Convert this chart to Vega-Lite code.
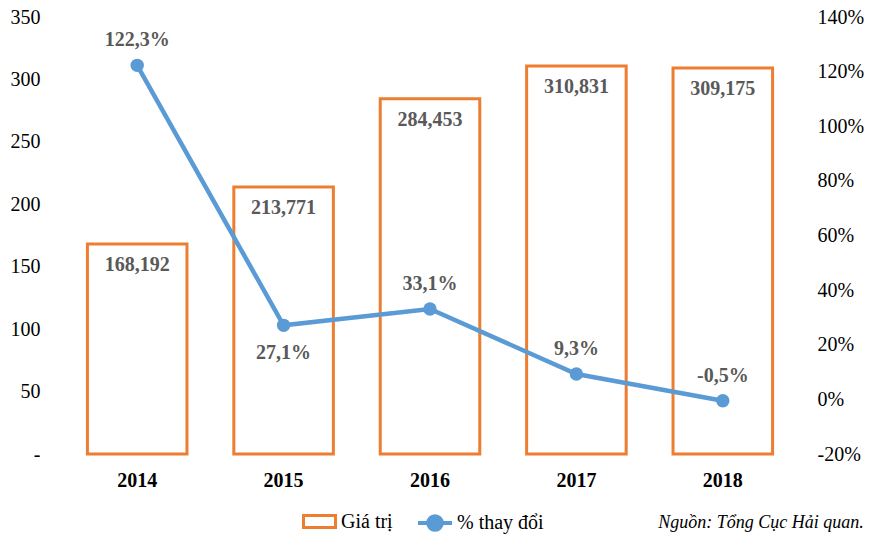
{
  "$schema": "https://vega.github.io/schema/vega-lite/v6.json",
  "autosize": {"type": "none"},
  "width": 732,
  "height": 437,
  "padding": {"left": 64, "top": 17, "right": 78, "bottom": 81},
  "background": "white",
  "config": {
    "locale": {"number": {"decimal": ",", "thousands": ".", "grouping": [3], "currency": ["", ""], "minus": "-"}},
    "font": "Liberation Serif",
    "view": {"stroke": null},
    "axis": {"grid": false, "domain": false, "ticks": false, "labelFont": "Liberation Serif", "labelFontSize": 20, "labelColor": "#000000", "title": null},
    "legend": {"labelFont": "Liberation Serif", "labelFontSize": 20, "labelColor": "#000000", "title": null}
  },
  "data": {
    "values": [
      {"year": "2014", "value": 168.192, "pct": 1.223},
      {"year": "2015", "value": 213.771, "pct": 0.271},
      {"year": "2016", "value": 284.453, "pct": 0.331},
      {"year": "2017", "value": 310.831, "pct": 0.093},
      {"year": "2018", "value": 309.175, "pct": -0.005}
    ]
  },
  "title": {
    "text": "Nguồn: Tổng Cục Hải quan.",
    "orient": "bottom",
    "anchor": "end",
    "frame": "bounds",
    "font": "Liberation Serif",
    "fontSize": 18,
    "fontStyle": "italic",
    "fontWeight": "normal",
    "color": "#000000",
    "offset": 0,
    "dy": -24
  },
  "encoding": {
    "x": {
      "field": "year",
      "type": "ordinal",
      "scale": {"paddingInner": 0.32, "paddingOuter": 0.16},
      "axis": {"labelAngle": 0, "labelFontWeight": "bold", "labelPadding": 16}
    }
  },
  "layer": [
    {
      "layer": [
        {
          "mark": {"type": "bar", "fill": "white", "strokeWidth": 3},
          "encoding": {
            "y": {"field": "value", "type": "quantitative", "scale": {"domain": [0, 350]},
              "axis": {"values": [0, 50, 100, 150, 200, 250, 300, 350], "labelExpr": "datum.value == 0 ? '-' : datum.label", "labelPadding": 24, "format": "d"}},
            "stroke": {"datum": "Giá trị", "type": "nominal",
              "scale": {"domain": ["Giá trị"], "range": ["#ED7D31"]},
              "legend": {"orient": "none", "legendX": 238, "legendY": 487, "symbolType": "M-1,-0.38H1V0.38H-1Z", "symbolSize": 1024, "symbolStrokeWidth": 3, "symbolFillColor": "white", "labelOffset": 4}}
          }
        },
        {
          "mark": {"type": "text", "dy": 21, "fontWeight": "bold", "fontSize": 20, "color": "#595959", "baseline": "middle"},
          "encoding": {
            "y": {"field": "value", "type": "quantitative"},
            "text": {"field": "value", "type": "quantitative", "format": ".3f"}
          }
        }
      ]
    },
    {
      "layer": [
        {
          "mark": {"type": "line", "strokeWidth": 4.5, "point": {"size": 180, "filled": true, "opacity": 1}},
          "encoding": {
            "y": {"field": "pct", "type": "quantitative", "scale": {"domain": [-0.2, 1.4]},
              "axis": {"orient": "right", "values": [-0.2, 0, 0.2, 0.4, 0.6, 0.8, 1.0, 1.2, 1.4], "format": ".0%", "labelPadding": 21}},
            "color": {"datum": "% thay đổi", "type": "nominal",
              "scale": {"domain": ["% thay đổi"], "range": ["#5B9BD5"]},
              "legend": {"orient": "none", "legendX": 352, "legendY": 487, "symbolType": "M-1,0H1M0.4,0A0.4,0.4 0 1,1 -0.4,0A0.4,0.4 0 1,1 0.4,0Z", "symbolSize": 1156, "symbolStrokeWidth": 4, "symbolFillColor": "#5B9BD5", "labelOffset": 3}}
          }
        },
        {
          "transform": [{"filter": "datum.year != '2015'"}],
          "mark": {"type": "text", "dy": -25, "fontWeight": "bold", "fontSize": 20, "color": "#595959", "baseline": "middle"},
          "encoding": {
            "y": {"field": "pct", "type": "quantitative"},
            "text": {"field": "pct", "type": "quantitative", "format": ".1%"}
          }
        },
        {
          "transform": [{"filter": "datum.year == '2015'"}],
          "mark": {"type": "text", "dy": 28, "fontWeight": "bold", "fontSize": 20, "color": "#595959", "baseline": "middle"},
          "encoding": {
            "y": {"field": "pct", "type": "quantitative"},
            "text": {"field": "pct", "type": "quantitative", "format": ".1%"}
          }
        }
      ]
    }
  ],
  "resolve": {"scale": {"y": "independent", "color": "independent", "stroke": "independent"}}
}
